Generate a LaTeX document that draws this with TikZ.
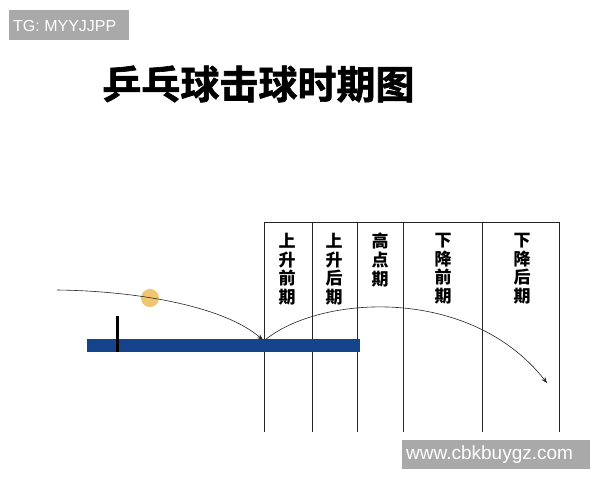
\documentclass[tikz,border=0pt]{standalone}
\usepackage{fontspec}
\setmainfont{Liberation Sans}
\newfontfamily\cjk{Noto Sans CJK SC}
\newfontfamily\cjkheavy{Noto Sans CJK SC Bold}[FakeBold=1.6]
\usetikzlibrary{arrows.meta}
\definecolor{tableblue}{RGB}{22,68,140}
\definecolor{ballcol}{RGB}{240,196,112}
\definecolor{wmgray}{RGB}{169,169,169}
\tikzset{
  colline/.style={draw=black!85, line width=0.6pt},
  traj/.style={draw=black!85, line width=0.6pt, -{Stealth[length=6pt,width=4.5pt]}},
  collabel/.style={font=\cjk\bfseries\fontsize{17}{18.6}\selectfont, align=center, inner sep=0pt, anchor=north},
  wmbox/.style={fill=wmgray, text=white, inner sep=0pt, anchor=west}
}
\begin{document}
\begin{tikzpicture}[x=1pt,y=-1pt]
\useasboundingbox (0,0) rectangle (600,480);
\fill[white] (0,0) rectangle (600,480);
% watermark top
\fill[wmgray] (9,10) rectangle (129,40);
\node[font=\fontsize{16}{16}\selectfont, text=white, inner sep=0pt, anchor=west] (tg) at (13,25.5) {TG: MYYJJPP};
% title
\node[font=\cjkheavy\fontsize{39}{39}\selectfont, inner sep=0pt] (title) at (258.5,84) {乒乓球击球时期图};
% columns
\coordinate (c0t) at (264,222); \coordinate (c0b) at (264,432);
\coordinate (c1t) at (312,222); \coordinate (c1b) at (312,432);
\coordinate (c2t) at (357,222); \coordinate (c2b) at (357,432);
\coordinate (c3t) at (403,222); \coordinate (c3b) at (403,432);
\coordinate (c4t) at (482,222); \coordinate (c4b) at (482,432);
\coordinate (c5t) at (559,222); \coordinate (c5b) at (559,432);
\draw[colline] (c0t) -- (c5t);
\foreach \i in {0,...,5} { \draw[colline] (c\i t) -- (c\i b); }
\node[collabel] (l1) at (287,233) {上\\升\\前\\期};
\node[collabel] (l2) at (334,233) {上\\升\\后\\期};
\node[collabel] (l3) at (380,233) {高\\点\\期};
\node[collabel] (l4) at (443,233) {下\\降\\前\\期};
\node[collabel] (l5) at (522,233) {下\\降\\后\\期};
% table and net
\fill[tableblue] (87,339) rectangle (360,352);
\draw[black, line width=3pt] (117,316) -- (117,352);
% ball
\node[circle, fill=ballcol, minimum size=18pt, inner sep=0pt] (ball) at (150,298) {};
% trajectories
\coordinate (s0) at (57,290);
\coordinate (bounce) at (263,340);
\coordinate (b2) at (265,340);
\coordinate (end) at (547,383);
\draw[traj] (s0) .. controls (140,291) and (225,307) .. (bounce);
\draw[traj] (b2) .. controls (320,295) and (470,285) .. (end);
% watermark bottom
\fill[wmgray] (402,440) rectangle (590,469);
\node[font=\fontsize{19}{19}\selectfont, text=white, inner sep=0pt, anchor=west] (wm) at (406,454.5) {www.cbkbuygz.com};
\end{tikzpicture}
\end{document}
